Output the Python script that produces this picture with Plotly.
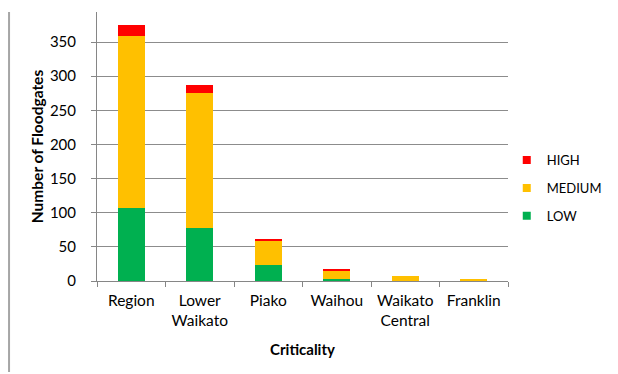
import plotly.graph_objects as go

# Floodgate counts by catchment and criticality rating
catchments = ["Region", "Lower<br>Waikato", "Piako", "Waihou", "Waikato<br>Central", "Franklin"]
low = [107, 78, 23, 3, 0, 0]
medium = [252, 197, 36, 11, 8, 1.5]
high = [16, 12, 2, 4, 0, 0]

y_ticks = [0, 50, 100, 150, 200, 250, 300, 350]

series = [("LOW", low, "#00B050"), ("MEDIUM", medium, "#FFC000"), ("HIGH", high, "#FF0000")]

font_family = "Lato, 'Open Sans', sans-serif"

fig = go.Figure()
for name, vals, col in series:
    fig.add_trace(go.Bar(
        x=catchments, y=vals, name=name,
        marker=dict(color=col, line=dict(width=0)),
        showlegend=False,
    ))

# Small square legend keys, highest criticality listed first
for name, vals, col in reversed(series):
    fig.add_trace(go.Scatter(
        x=[None], y=[None], mode="markers", name=name, legendgroup=name,
        marker=dict(symbol="square", size=8, color=col),
    ))

fig.update_layout(
    barmode="stack",
    bargap=0.6,
    width=618, height=374,
    margin=dict(l=97, r=110, t=12, b=93, autoexpand=False),
    paper_bgcolor="white", plot_bgcolor="white",
    font=dict(family=font_family, size=15, color="#000000"),
    showlegend=True,
    legend=dict(
        xref="container", yref="container",
        x=0.82, y=0.497, xanchor="left", yanchor="middle",
        font=dict(size=13),
        itemwidth=30, tracegroupgap=8,
        bgcolor="rgba(0,0,0,0)",
    ),
    xaxis=dict(
        showline=True, linecolor="#868686", linewidth=1,
        ticks="outside", tickson="boundaries", ticklen=5, tickcolor="#868686",
        ticklabelstandoff=5,
        title=dict(text="<b>Criticality</b>", font=dict(size=15), standoff=16),
        tickfont=dict(size=15.5),
    ),
    yaxis=dict(
        range=[0, 394],
        tickvals=y_ticks,
        showgrid=True, gridcolor="#8c8c8c", gridwidth=1,
        showline=True, linecolor="#868686", linewidth=1,
        ticks="outside", ticklen=5, tickcolor="#868686",
        ticklabelstandoff=12,
        tickfont=dict(size=15),
        title=dict(text="<b>Number of Floodgates</b>", font=dict(size=15.5), standoff=2),
        zeroline=False,
    ),
)

# Page border line at the left edge
fig.add_shape(type="line", xref="paper", yref="paper",
              x0=-0.214, x1=-0.214, y0=1.0, y1=-0.338,
              line=dict(color="#a6a6a6", width=2))

fig.write_html("out.html")
